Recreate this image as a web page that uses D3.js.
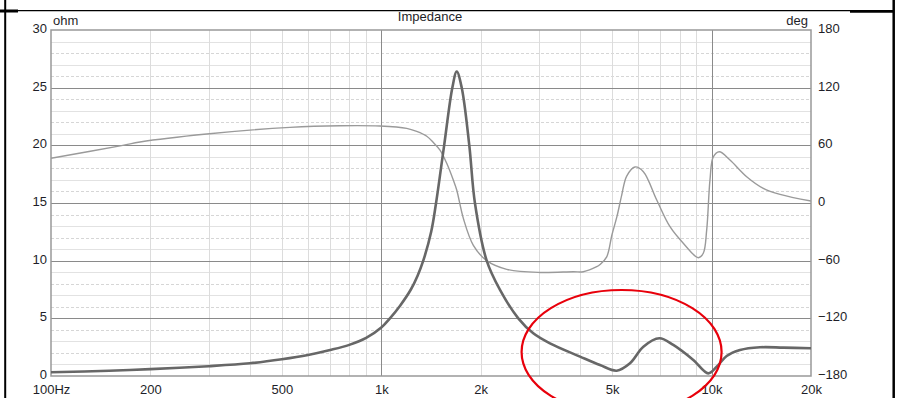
<!DOCTYPE html>
<html><head><meta charset="utf-8">
<script src="https://cdn.jsdelivr.net/npm/d3@7"></script>
<style>
html,body{margin:0;padding:0;background:#fff;}
svg{display:block;}
text{font-family:"Liberation Sans",Arial,sans-serif;fill:#1e1e28;}
</style></head>
<body>
<svg id="chart" width="899" height="398"></svg>
<script>
// ---- data ----
const freqTicks = [100, 200, 500, 1000, 2000, 5000, 10000, 20000];
const freqTickLabels = ["100Hz", "200", "500", "1k", "2k", "5k", "10k", "20k"];
const ohmTicks = [0, 5, 10, 15, 20, 25, 30];
const degTicks = [-180, -120, -60, 0, 60, 120, 180];

const impFreq = [100,150,200,300,400,500,600,700,800,900,1000,1062,1140,1229,1288,1340,1416,1465,1550,1641,1692,1752,1847,1921,2085,2288,2599,2885,3241,3997,4594,5161,5662,6216,6947,7657,8803,9772,10361,11110,12190,14013,16490,20000];
const impOhm  = [0.32,0.45,0.6,0.85,1.1,1.45,1.82,2.25,2.7,3.3,4.2,5.0,6.1,7.5,8.7,10,12.5,15,20,25,26.4,25,20,15,10,7.46,5,3.7,2.83,1.68,0.95,0.46,1.1,2.54,3.27,2.69,1.39,0.23,0.8,1.73,2.25,2.49,2.46,2.4];

const phaseFreq = [100,165,186,296,529,750,991,1194,1280,1373,1437,1506,1578,1652,1692,1772,1900,2085,2397,3023,3814,4089,4490,4594,4814,4994,5171,5343,5534,5863,6216,6823,7484,8210,9115,9438,9666,9890,10120,10552,11369,12771,14340,16115,20000];
const phaseDeg  = [46.5,60,63.5,71.8,78.7,80.4,80.1,77.7,74.5,69.5,63,55,41.3,23.9,13.5,-16,-44,-60,-69,-72.3,-71.5,-71.5,-66.3,-64,-56,-33,-14,8,28,37.5,32.6,3.1,-24.7,-41.9,-56.9,-52.3,-28,24,48,53.4,44.7,27.4,15.3,9,2.1];

const annotation = [{freq: 5340, ohm: 2.08}];

// ---- layout ----
const svg = d3.select("#chart");
const L = 51, R = 811, T = 30, B = 376;
const x = d3.scaleLog().domain([100, 20000]).range([L, R]);
const y = d3.scaleLinear().domain([0, 30]).range([B, T]);
const yDeg = d3.scaleLinear().domain([-180, 180]).range([B, T]);

// frame (document table border)
svg.append("line").attr("x1",5.2).attr("x2",5.2).attr("y1",0).attr("y2",398).attr("stroke","#000").attr("stroke-width",2);
svg.append("line").attr("x1",893.7).attr("x2",893.7).attr("y1",0).attr("y2",398).attr("stroke","#000").attr("stroke-width",2.5);
svg.append("line").attr("x1",0).attr("x2",893).attr("y1",10.7).attr("y2",10.7).attr("stroke","#000").attr("stroke-width",1.2);
svg.append("line").attr("x1",0).attr("x2",18).attr("y1",11).attr("y2",11).attr("stroke","#000").attr("stroke-width",3);
svg.append("line").attr("x1",850).attr("x2",893).attr("y1",11.5).attr("y2",11.5).attr("stroke","#000").attr("stroke-width",2.5);

const grid = svg.append("g");
// minor horizontal
d3.range(1, 30).filter(v => v % 5 !== 0).forEach(v => {
  grid.append("line").attr("x1",L).attr("x2",R).attr("y1",Math.round(y(v))+0.5).attr("y2",Math.round(y(v))+0.5)
    .attr("stroke", v % 2 ? "#e2e2e2" : "#d6d6d6").attr("stroke-width",1)
    .attr("stroke-dasharray", v % 2 ? null : "3,2");
});
// minor vertical
const minorF = [];
[100, 1000, 10000].forEach(d => { for (let k = 2; k <= 9; k++) { const f = d*k; if (f < 20000) minorF.push(f); } });
minorF.filter(f => f !== 1000 && f !== 10000).forEach(f => {
  grid.append("line").attr("x1",Math.round(x(f))+0.5).attr("x2",Math.round(x(f))+0.5).attr("y1",T).attr("y2",B)
    .attr("stroke","#dcdcdc").attr("stroke-width",1);
});
// major horizontal
ohmTicks.filter(v => v > 0 && v < 30).forEach(v => {
  grid.append("line").attr("x1",L).attr("x2",R).attr("y1",Math.round(y(v))+0.5).attr("y2",Math.round(y(v))+0.5)
    .attr("stroke","#8a8a8a").attr("stroke-width",1);
});
// major vertical
[1000, 10000].forEach(f => {
  grid.append("line").attr("x1",Math.round(x(f))+0.5).attr("x2",Math.round(x(f))+0.5).attr("y1",T).attr("y2",B)
    .attr("stroke","#8a8a8a").attr("stroke-width",1);
});
// plot border
grid.append("rect").attr("x",L).attr("y",T).attr("width",R-L).attr("height",B-T)
  .attr("fill","none").attr("stroke","#999").attr("stroke-width",1.5);

// curves
svg.append("clipPath").attr("id","clip").append("rect").attr("x",L).attr("y",T).attr("width",R-L).attr("height",B-T);
const phaseLine = d3.line().x(d => x(d[0])).y(d => yDeg(d[1])).curve(d3.curveCatmullRom.alpha(0.5));
const impLine = d3.line().x(d => x(d[0])).y(d => y(d[1])).curve(d3.curveCatmullRom.alpha(0.5));
const gc = svg.append("g").attr("clip-path","url(#clip)");
gc.append("path").datum(d3.zip(phaseFreq, phaseDeg)).attr("d", phaseLine)
  .attr("fill","none").attr("stroke","#9a9a9a").attr("stroke-width",1.4);
gc.append("path").datum(d3.zip(impFreq, impOhm)).attr("d", impLine)
  .attr("fill","none").attr("stroke","#676767").attr("stroke-width",2.6).attr("stroke-linejoin","round");

// axes
const fs = "13px";
const ax = svg.append("g").attr("transform",`translate(0,${B})`)
  .call(d3.axisBottom(x).tickValues(freqTicks).tickFormat((d,i) => freqTickLabels[i]).tickSize(0).tickPadding(0));
ax.select(".domain").remove();
ax.selectAll("text").attr("dy",null).attr("y",18).style("font-size",fs).attr("fill","#1e1e28");

const ayL = svg.append("g").attr("transform",`translate(${L},0)`)
  .call(d3.axisLeft(y).tickValues(ohmTicks).tickFormat(d3.format("d")).tickSize(0).tickPadding(4));
ayL.select(".domain").remove();
ayL.selectAll("text").attr("dy",null).attr("y",-2).attr("dominant-baseline","central").style("font-size",fs).attr("fill","#1e1e28");

const ayR = svg.append("g").attr("transform",`translate(${R},0)`)
  .call(d3.axisRight(yDeg).tickValues(degTicks).tickFormat(d3.format("d")).tickSize(0).tickPadding(7));
ayR.select(".domain").remove();
ayR.selectAll("text").attr("dy",null).attr("y",-2).attr("dominant-baseline","central").style("font-size",fs).attr("fill","#1e1e28");

svg.append("text").attr("x",53).attr("y",25).text("ohm").style("font-size",fs);
svg.append("text").attr("x",808).attr("y",25).attr("text-anchor","end").text("deg").style("font-size",fs);
svg.append("text").attr("x",430).attr("y",21).attr("text-anchor","middle").text("Impedance").style("font-size",fs);

// annotation ellipse
svg.selectAll("ellipse.ann").data(annotation).join("ellipse").attr("class","ann")
  .attr("cx", d => x(d.freq)).attr("cy", d => y(d.ohm)).attr("rx",100).attr("ry",62)
  .attr("fill","none").attr("stroke","#e8000b").attr("stroke-width",2.2);
</script>
</body></html>
